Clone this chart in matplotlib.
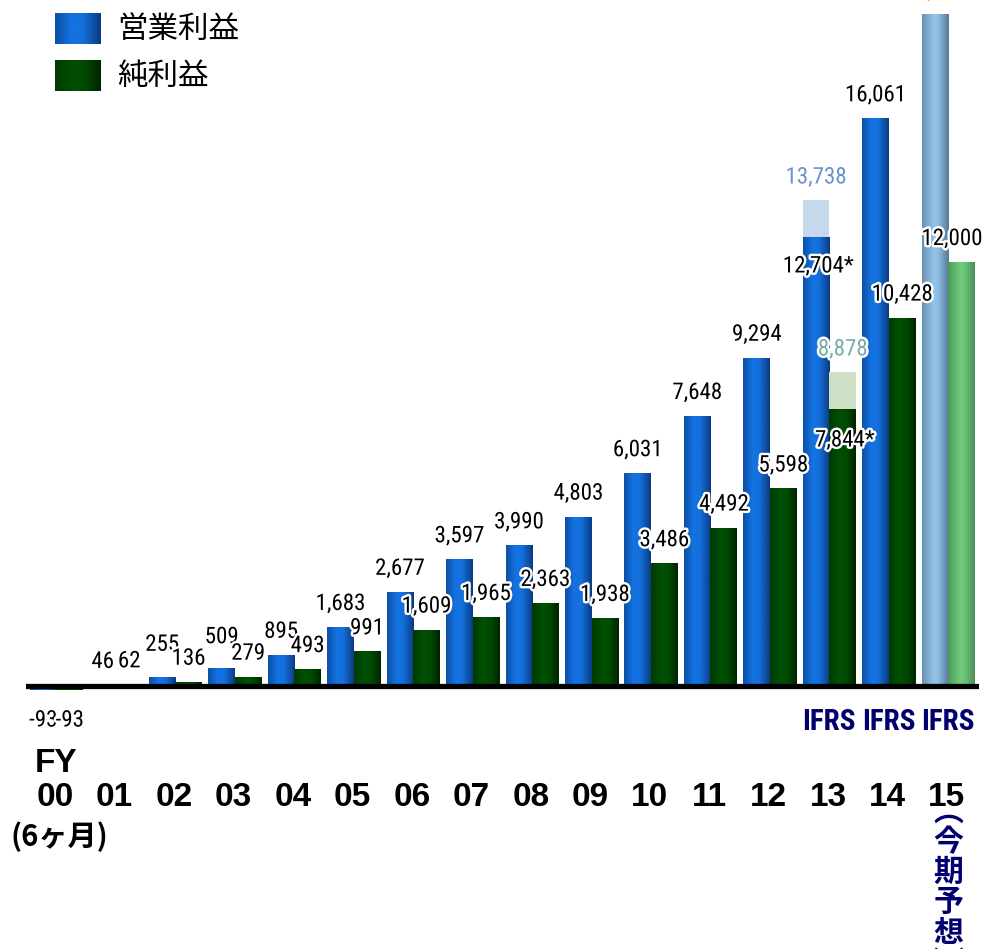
import numpy as np
import matplotlib
matplotlib.use("Agg")
import matplotlib.pyplot as plt
import matplotlib.patheffects as pe
import matplotlib.font_manager as fm
from matplotlib.colors import LinearSegmentedColormap

# ---------- data ----------
years = ["00", "01", "02", "03", "04", "05", "06", "07", "08",
         "09", "10", "11", "12", "13", "14", "15"]
op_income = [-93, 46, 255, 509, 895, 1683, 2677, 3597, 3990,
             4803, 6031, 7648, 9294, 12704, 16061, 19000]
net_income = [-93, 62, 136, 279, 493, 991, 1609, 1965, 2363,
              1938, 3486, 4492, 5598, 7844, 10428, 12000]
op_labels = ["-93", "46", "255", "509", "895", "1,683", "2,677", "3,597", "3,990",
             "4,803", "6,031", "7,648", "9,294", "12,704*", "16,061", "19,000"]
net_labels = ["-93", "62", "136", "279", "493", "991", "1,609", "1,965", "2,363",
              "1,938", "3,486", "4,492", "5,598", "7,844*", "10,428", "12,000"]
restated_idx = 13                      # FY13: figures before IFRS restatement
op_restated, net_restated = 13738, 8878
op_restated_label, net_restated_label = "13,738", "8,878"
ifrs_idx = [13, 14, 15]
forecast_idx = 15

# ---------- pick a narrow font for the numbers ----------
have = {(f.name, f.stretch) for f in fm.fontManager.ttflist}
names = {n for n, _ in have}
if "Liberation Sans Narrow" in names:
    NUM = dict(family=["Liberation Sans Narrow", "DejaVu Sans"])
    NUM_SIZE, IFRS_SIZE = 17.5, 22
elif "Roboto Condensed" in names:
    NUM = dict(family=["Roboto Condensed", "DejaVu Sans"])
    NUM_SIZE, IFRS_SIZE = 16.5, 21
elif ("DejaVu Sans", "condensed") in have or ("DejaVu Sans", "semi-condensed") in have:
    NUM = dict(family=["DejaVu Sans"], fontstretch="condensed")
    NUM_SIZE, IFRS_SIZE = 14.5, 18
else:
    NUM = dict(family=["Liberation Sans", "DejaVu Sans"])
    NUM_SIZE, IFRS_SIZE = 15, 18
JP_FONT = ["Noto Sans CJK JP", "DejaVu Sans"]
NAVY = "#00006e"

blue_cm = LinearSegmentedColormap.from_list(
    "b", [(0, "#0c4fa3"), (0.35, "#1473e2"), (0.6, "#1470dc"), (1, "#0a3a82")])
green_cm = LinearSegmentedColormap.from_list(
    "g", [(0, "#003a00"), (0.4, "#005003"), (0.65, "#004a00"), (1, "#002400")])
lblue_cm = LinearSegmentedColormap.from_list(
    "lb", [(0, "#6a8fb0"), (0.45, "#93c5ea"), (0.6, "#8cbde2"), (1, "#557898")])
lgreen_cm = LinearSegmentedColormap.from_list(
    "lg", [(0, "#4c9a5a"), (0.45, "#70cc7c"), (0.65, "#68c274"), (1, "#4a8c55")])
grad = np.linspace(0, 1, 128).reshape(1, -1)
halo = [pe.withStroke(linewidth=3.5, foreground="white")]

W, H = 988, 949
fig = plt.figure(figsize=(W / 100, H / 100), dpi=100)
ax = fig.add_axes([26 / W, (H - 700) / H, (979 - 26) / W, 700 / H])

x = np.arange(len(years))
bw = 0.446
op_bars = ax.bar(x - bw / 2, op_income, bw, color="none", edgecolor="none")
net_bars = ax.bar(x + bw / 2, net_income, bw, color="none", edgecolor="none")


def gradient_fill(bar, cmap):
    x0, y0, w, h = bar.get_x(), bar.get_y(), bar.get_width(), bar.get_height()
    im = ax.imshow(grad, cmap=cmap, extent=(x0, x0 + w, y0, y0 + h),
                   aspect="auto", interpolation="bicubic", zorder=2)
    im.set_clip_path(bar)


for i, (bo, bn) in enumerate(zip(op_bars, net_bars)):
    fc = i == forecast_idx
    gradient_fill(bo, lblue_cm if fc else blue_cm)
    gradient_fill(bn, lgreen_cm if fc else green_cm)

# pre-restatement FY13 values, shown as pale extensions
ax.bar(restated_idx - bw / 2, op_restated - op_income[restated_idx], bw,
       bottom=op_income[restated_idx], color="#c6d8ec", zorder=2)
ax.bar(restated_idx + bw / 2, net_restated - net_income[restated_idx], bw,
       bottom=net_income[restated_idx], color="#cde0c6", zorder=2)

ax.axhline(0, color="black", lw=3.8, zorder=3)


def label(xv, yv, txt, dx=0, dy=12.2, color="black"):
    ax.annotate(txt, (xv, yv), xytext=(dx, dy), textcoords="offset points",
                ha="center", va="baseline", fontsize=NUM_SIZE, color=color,
                path_effects=halo, zorder=5, annotation_clip=False, **NUM)


lifted = {"255": 7, "509": 6}          # labels sitting higher in the original
for i in range(len(years)):
    for xv, v, t in ((x[i] - bw / 2, op_income[i], op_labels[i]),
                     (x[i] + bw / 2, net_income[i], net_labels[i])):
        if v < 0:
            label(xv, v, t, dy=-26.5)
        elif i == restated_idx:
            label(xv, v, t, dx=1.5, dy=-25.5 if v == op_income[i] else -27)
        elif i == forecast_idx and v == net_income[i]:
            label(xv, v, t, dx=-7)
        else:
            label(xv, v, t, dy=12.2 + lifted.get(t, 0))

label(restated_idx - bw / 2, op_restated, op_restated_label, color="#6b90d2")
label(restated_idx + bw / 2, net_restated, net_restated_label, color="#78aea6")

ax.set_xlim(-0.513, 15.517)
ax.set_ylim(-382, 19404)
ax.axis("off")

# ---------- x labels ----------
for i, yl in enumerate(years):
    ax.annotate(yl, (x[i], 0), xytext=(-1, -86), textcoords="offset points",
                ha="center", va="baseline", fontsize=24, fontweight="bold",
                family=["Liberation Sans", "DejaVu Sans"], annotation_clip=False)
for i in ifrs_idx:
    ax.annotate("IFRS", (x[i], 0), xytext=(0, -31.3), textcoords="offset points",
                ha="center", va="baseline", fontsize=IFRS_SIZE, fontweight="bold",
                color=NAVY, annotation_clip=False, **NUM)
for k, ch in enumerate("︵今期予想︶"):
    ax.annotate(ch, (x[forecast_idx], 0), xytext=(0, -90 - k * 21.8),
                textcoords="offset points", ha="center", va="center",
                fontsize=21.5, fontweight="bold", color=NAVY, family=JP_FONT,
                annotation_clip=False)

fig.text(35 / W, 1 - 772 / H, "FY", fontsize=24, fontweight="bold",
         family=["Liberation Sans", "DejaVu Sans"], va="baseline")
fig.text(10 / W, 1 - 846 / H, "(6ヶ月)", fontsize=21, fontweight="bold",
         family=JP_FONT, va="baseline")

# ---------- legend ----------
for top, cm, txt in ((13, blue_cm, "営業利益"), (60, green_cm, "純利益")):
    sw = fig.add_axes([55 / W, 1 - (top + 31) / H, 46 / W, 31 / H])
    sw.imshow(grad, cmap=cm, aspect="auto", interpolation="bicubic")
    sw.axis("off")
    fig.text(117 / W, 1 - (top + 16) / H, txt, fontsize=22, family=JP_FONT,
             va="center")

fig.savefig("out.png", dpi=100)
